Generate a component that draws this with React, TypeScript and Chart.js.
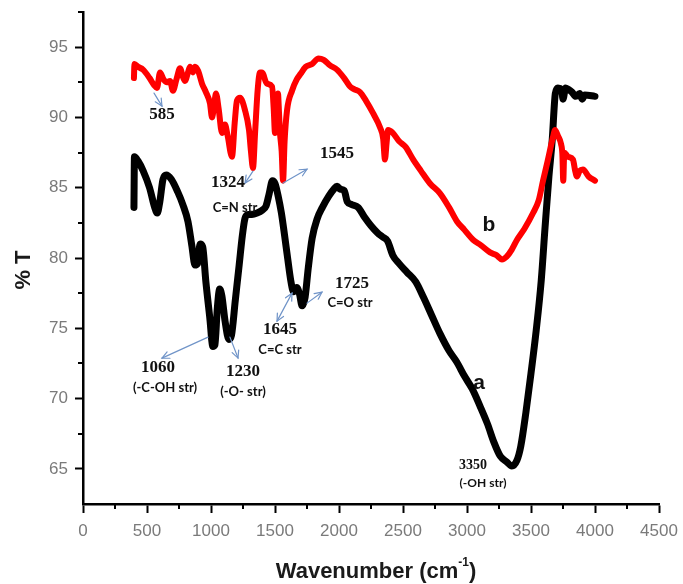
import { useEffect, useRef } from "react";
import { Chart, registerables } from "chart.js";

Chart.register(...registerables);

// Spectrum a (black)
const wavenumberA = [
  398, 402, 430, 470, 520, 560, 580, 600, 625, 650, 690, 740, 780, 820, 850, 875, 895, 915, 935, 960,
  990, 1015, 1030, 1050, 1068, 1085, 1110, 1140, 1160, 1190, 1220, 1245, 1265, 1290, 1320, 1360, 1400, 1430, 1455, 1480,
  1500, 1525, 1550, 1575, 1600, 1625, 1645, 1670, 1690, 1712, 1735, 1760, 1790, 1830, 1870, 1920, 1960, 1985, 2010, 2040,
  2065, 2100, 2150, 2200, 2250, 2300, 2340, 2380, 2420, 2470, 2530, 2600, 2660, 2720, 2790, 2860, 2920, 2980, 3040, 3100,
  3160, 3210, 3260, 3310, 3350, 3390, 3420, 3460, 3500, 3540, 3580, 3610, 3640, 3665, 3690, 3710, 3740, 3750, 3770, 3790,
  3820, 3850, 3880, 3900, 3920, 4000,
];
const transmittanceA = [
  83.6, 87.2, 86.9, 86.2, 85.0, 83.6, 83.2, 84.0, 85.6, 85.9, 85.6, 84.7, 83.8, 82.6, 80.9, 79.5, 79.6, 81.0, 80.8, 78.3,
  75.8, 73.7, 73.8, 76.5, 77.8, 77.3, 75.5, 74.2, 74.5, 77.0, 79.5, 81.6, 82.8, 83.1, 83.1, 83.2, 83.4, 83.7, 84.6, 85.5,
  85.3, 84.4, 83.2, 81.6, 79.9, 78.3, 77.6, 77.9, 77.5, 76.6, 77.2, 79.3, 81.4, 82.8, 83.6, 84.4, 84.9, 85.1, 84.9, 84.8,
  84.0, 83.8, 83.6, 82.9, 82.3, 81.8, 81.5, 81.2, 80.2, 79.6, 79.0, 78.3, 77.2, 76.0, 74.6, 73.4, 72.6, 71.6, 70.7, 69.5,
  68.2, 66.9, 65.9, 65.5, 65.2, 65.6, 66.6, 69.0, 71.8, 74.8, 78.4, 82.2, 85.8, 88.3, 91.7, 92.1, 92.0, 91.3, 92.1, 92.0,
  91.8, 91.5, 91.7, 91.3, 91.6, 91.5,
];

// Spectrum b (red)
const wavenumberB = [
  398, 402, 430, 469, 520, 555, 578, 602, 630, 656, 680, 703, 730, 758, 780, 797, 820, 836, 859, 875,
  900, 930, 960, 992, 1008, 1025, 1039, 1060, 1086, 1109, 1130, 1164, 1185, 1203, 1227, 1266, 1297, 1312, 1328, 1345,
  1365, 1383, 1398, 1437, 1477, 1490, 1500, 1512, 1523, 1532, 1539, 1552, 1563, 1575, 1594, 1633, 1670, 1700, 1740, 1790,
  1840, 1880, 1930, 1984, 2040, 2086, 2120, 2164, 2210, 2266, 2320, 2345, 2359, 2372, 2383, 2420, 2470, 2520, 2580, 2640,
  2711, 2789, 2860, 2922, 2980, 3047, 3110, 3180, 3230, 3273, 3310, 3350, 3391, 3450, 3516, 3560, 3594, 3630, 3672, 3688,
  3710, 3735, 3745, 3752, 3760, 3790, 3828, 3845, 3859, 3880, 3906, 3950, 4000,
];
const transmittanceB = [
  92.8, 93.8, 93.6, 93.4, 92.8, 92.3, 92.1, 93.2, 92.7, 92.5, 92.6, 91.9, 92.7, 93.5, 92.9, 92.6, 93.2, 93.6, 93.2, 93.6,
  93.3, 92.4, 91.8, 91.0, 90.0, 90.9, 91.7, 90.6, 88.9, 89.5, 88.7, 87.2, 89.6, 91.2, 91.4, 90.5, 89.1, 87.6, 86.4, 89.0,
  92.0, 93.2, 93.2, 92.4, 92.2, 90.6, 88.9, 90.3, 91.7, 90.2, 88.9, 87.6, 85.5, 88.3, 90.5, 91.9, 92.7, 93.1, 93.6, 93.8,
  94.2, 94.1, 93.7, 93.4, 92.8, 92.2, 92.0, 91.8, 91.2, 90.3, 89.3, 88.5, 87.0, 88.2, 89.1, 88.9, 88.3, 87.9, 87.0, 86.2,
  85.3, 84.6, 83.6, 82.6, 82.0, 81.3, 80.9, 80.4, 80.2, 79.9, 80.1, 80.6, 81.3, 82.1, 83.2, 84.1, 85.5, 86.9, 88.6, 89.1,
  88.7, 88.1, 87.4, 85.5, 87.5, 87.2, 87.0, 86.2, 85.8, 86.2, 86.3, 85.8, 85.5,
];

const xTicks = [0, 500, 1000, 1500, 2000, 2500, 3000, 3500, 4000, 4500];
const yTicks = [65, 70, 75, 80, 85, 90, 95];
const xMin = 0;
const xMax = 4500;
const yMin = 62.5;
const yMax = 97.5;

const numberFont = 'bold 17px "Liberation Serif", "Times New Roman", serif';
const smallNumberFont = 'bold 14px "Liberation Serif", "Times New Roman", serif';
const bandFont = 'bold 13px Lato, "Liberation Sans", sans-serif';
const curveFont = 'bold 21px "Liberation Sans", Arial, sans-serif';

// Band assignments placed in data coordinates
const peakLabels = [
  { text: "585", x: 617, y: 90.2, font: numberFont },
  { text: "1324", x: 1133, y: 85.33, font: numberFont },
  { text: "C=N str", x: 1188, y: 83.6, font: bandFont },
  { text: "1545", x: 1984, y: 87.46, font: numberFont },
  { text: "1725", x: 2102, y: 78.2, font: numberFont },
  { text: "C=O str", x: 2086, y: 76.8, font: bandFont },
  { text: "1645", x: 1539, y: 74.9, font: numberFont },
  { text: "C=C str", x: 1539, y: 73.45, font: bandFont },
  { text: "1060", x: 586, y: 72.17, font: numberFont },
  { text: "(-C-OH str)", x: 641, y: 70.75, font: bandFont },
  { text: "1230", x: 1250, y: 71.9, font: numberFont },
  { text: "(-O- str)", x: 1250, y: 70.46, font: bandFont },
  { text: "3350", x: 3047, y: 65.27, font: smallNumberFont },
  { text: "(-OH str)", x: 3125, y: 64.0, font: 'bold 12px Lato, "Liberation Sans", sans-serif' },
  { text: "a", x: 3094, y: 71.1, font: curveFont },
  { text: "b", x: 3172, y: 82.34, font: curveFont },
];

const pointers = [
  { x1: 555, y1: 91.73, x2: 617, y2: 90.8, both: false },
  { x1: 1328, y1: 86.18, x2: 1266, y2: 85.33, both: false },
  { x1: 1563, y1: 85.33, x2: 1750, y2: 86.32, both: false },
  { x1: 1750, y1: 76.79, x2: 1867, y2: 77.57, both: false },
  { x1: 1633, y1: 77.5, x2: 1516, y2: 75.51, both: true },
  { x1: 977, y1: 74.37, x2: 617, y2: 72.88, both: false },
  { x1: 1148, y1: 74.37, x2: 1211, y2: 72.88, both: false },
];

function zip(xs: number[], ys: number[]) {
  return xs.map((x, i) => ({ x, y: ys[i] }));
}

function drawHead(ctx: CanvasRenderingContext2D, fx: number, fy: number, tx: number, ty: number) {
  const ang = Math.atan2(ty - fy, tx - fx);
  const len = 8;
  const spread = 0.45;
  ctx.beginPath();
  ctx.moveTo(tx - len * Math.cos(ang - spread), ty - len * Math.sin(ang - spread));
  ctx.lineTo(tx, ty);
  ctx.lineTo(tx - len * Math.cos(ang + spread), ty - len * Math.sin(ang + spread));
  ctx.stroke();
}

const decorations = {
  id: "decorations",
  afterDraw(chart: any) {
    const { ctx, scales, chartArea } = chart;
    const xs = scales.x;
    const ys = scales.y;
    ctx.save();

    // minor ticks halfway between the labelled ones, plus the top end of the y axis
    ctx.strokeStyle = "#000";
    ctx.lineWidth = 2;
    for (let i = 0; i < xTicks.length - 1; i++) {
      const px = Math.round(xs.getPixelForValue((xTicks[i] + xTicks[i + 1]) / 2));
      ctx.beginPath();
      ctx.moveTo(px, chartArea.bottom);
      ctx.lineTo(px, chartArea.bottom + 5);
      ctx.stroke();
    }
    const yMinor = [yMin + 5, ...yTicks.map((v) => v + 2.5)];
    for (const v of yMinor) {
      if (v > yMax + 0.01) continue;
      const py = Math.round(ys.getPixelForValue(v));
      ctx.beginPath();
      ctx.moveTo(chartArea.left, py);
      ctx.lineTo(chartArea.left - 5, py);
      ctx.stroke();
    }

    // pointer arrows
    ctx.strokeStyle = "#7094c8";
    ctx.lineWidth = 1.2;
    ctx.lineCap = "round";
    for (const p of pointers) {
      const x1 = xs.getPixelForValue(p.x1);
      const y1 = ys.getPixelForValue(p.y1);
      const x2 = xs.getPixelForValue(p.x2);
      const y2 = ys.getPixelForValue(p.y2);
      ctx.beginPath();
      ctx.moveTo(x1, y1);
      ctx.lineTo(x2, y2);
      ctx.stroke();
      drawHead(ctx, x1, y1, x2, y2);
      if (p.both) drawHead(ctx, x2, y2, x1, y1);
    }

    // band labels
    ctx.fillStyle = "#111";
    ctx.textAlign = "center";
    ctx.textBaseline = "middle";
    for (const l of peakLabels) {
      ctx.font = l.font;
      ctx.fillText(l.text, xs.getPixelForValue(l.x), ys.getPixelForValue(l.y));
    }

    // axis titles
    ctx.fillStyle = "#1a1a1a";
    const bigFont = 'bold 22px "Liberation Sans", Arial, sans-serif';
    const supFont = 'bold 12px "Liberation Sans", Arial, sans-serif';
    const main = "Wavenumber (cm";
    const sup = "-1";
    const close = ")";
    ctx.font = bigFont;
    const wMain = ctx.measureText(main).width;
    const wClose = ctx.measureText(close).width;
    ctx.font = supFont;
    const wSup = ctx.measureText(sup).width;
    const total = wMain + wSup + wClose;
    let left = (chartArea.left + chartArea.right) / 2 + 5 - total / 2;
    const base = 578;
    ctx.textAlign = "left";
    ctx.textBaseline = "alphabetic";
    ctx.font = bigFont;
    ctx.fillText(main, left, base);
    left += wMain;
    ctx.font = supFont;
    ctx.fillText(sup, left, base - 12);
    left += wSup;
    ctx.font = bigFont;
    ctx.fillText(close, left, base);

    ctx.translate(24, 270);
    ctx.rotate(-Math.PI / 2);
    ctx.textAlign = "center";
    ctx.textBaseline = "middle";
    ctx.font = bigFont;
    ctx.fillText("% T", 0, 0);
    ctx.restore();
  },
};

export default function App() {
  const canvasRef = useRef<HTMLCanvasElement | null>(null);

  useEffect(() => {
    document.body.style.margin = "0";
    const canvas = canvasRef.current;
    if (!canvas) return;
    const tickFont = { family: '"Liberation Sans", Arial, sans-serif', size: 17 };
    const chart = new Chart(canvas, {
      type: "line",
      data: {
        datasets: [
          {
            label: "b",
            data: zip(wavenumberB, transmittanceB),
            borderColor: "#ff0000",
            borderWidth: 6,
            pointRadius: 0,
            cubicInterpolationMode: "monotone",
            borderJoinStyle: "round",
            borderCapStyle: "round",
            fill: false,
          },
          {
            label: "a",
            data: zip(wavenumberA, transmittanceA),
            borderColor: "#000000",
            borderWidth: 7,
            pointRadius: 0,
            cubicInterpolationMode: "monotone",
            borderJoinStyle: "round",
            borderCapStyle: "round",
            fill: false,
          },
        ],
      },
      options: {
        responsive: false,
        animation: false,
        layout: { padding: { left: 0, right: 24, top: 12, bottom: 0 } },
        plugins: { legend: { display: false }, tooltip: { enabled: false } },
        scales: {
          x: {
            type: "linear",
            min: xMin,
            max: xMax,
            afterBuildTicks: (scale: any) => {
              scale.ticks = xTicks.map((value) => ({ value }));
            },
            ticks: {
              color: "#7a7a7a",
              font: tickFont,
              padding: 8,
              maxRotation: 0,
              autoSkip: false,
              callback: (v: any) => String(v),
            },
            grid: { drawOnChartArea: false, drawTicks: true, tickLength: 9, tickColor: "#000", tickWidth: 2 },
            border: { display: true, color: "#000", width: 2.5 },
            afterFit: (scale: any) => {
              scale.height = 80;
              scale.paddingLeft = 0;
              scale.paddingRight = 0;
            },
          },
          y: {
            type: "linear",
            min: yMin,
            max: yMax,
            afterBuildTicks: (scale: any) => {
              scale.ticks = yTicks.map((value) => ({ value }));
            },
            ticks: {
              color: "#7a7a7a",
              font: tickFont,
              padding: 7,
              autoSkip: false,
              callback: (v: any) => String(v),
            },
            grid: { drawOnChartArea: false, drawTicks: true, tickLength: 8, tickColor: "#000", tickWidth: 2 },
            border: { display: true, color: "#000", width: 2.5 },
            afterFit: (scale: any) => {
              scale.width = 83;
              scale.paddingTop = 0;
              scale.paddingBottom = 0;
            },
          },
        },
      },
      plugins: [decorations],
    } as any);
    return () => chart.destroy();
  }, []);

  return (
    <div style={{ width: 683, height: 584, background: "#fff" }}>
      <canvas ref={canvasRef} width={683} height={584} />
    </div>
  );
}
